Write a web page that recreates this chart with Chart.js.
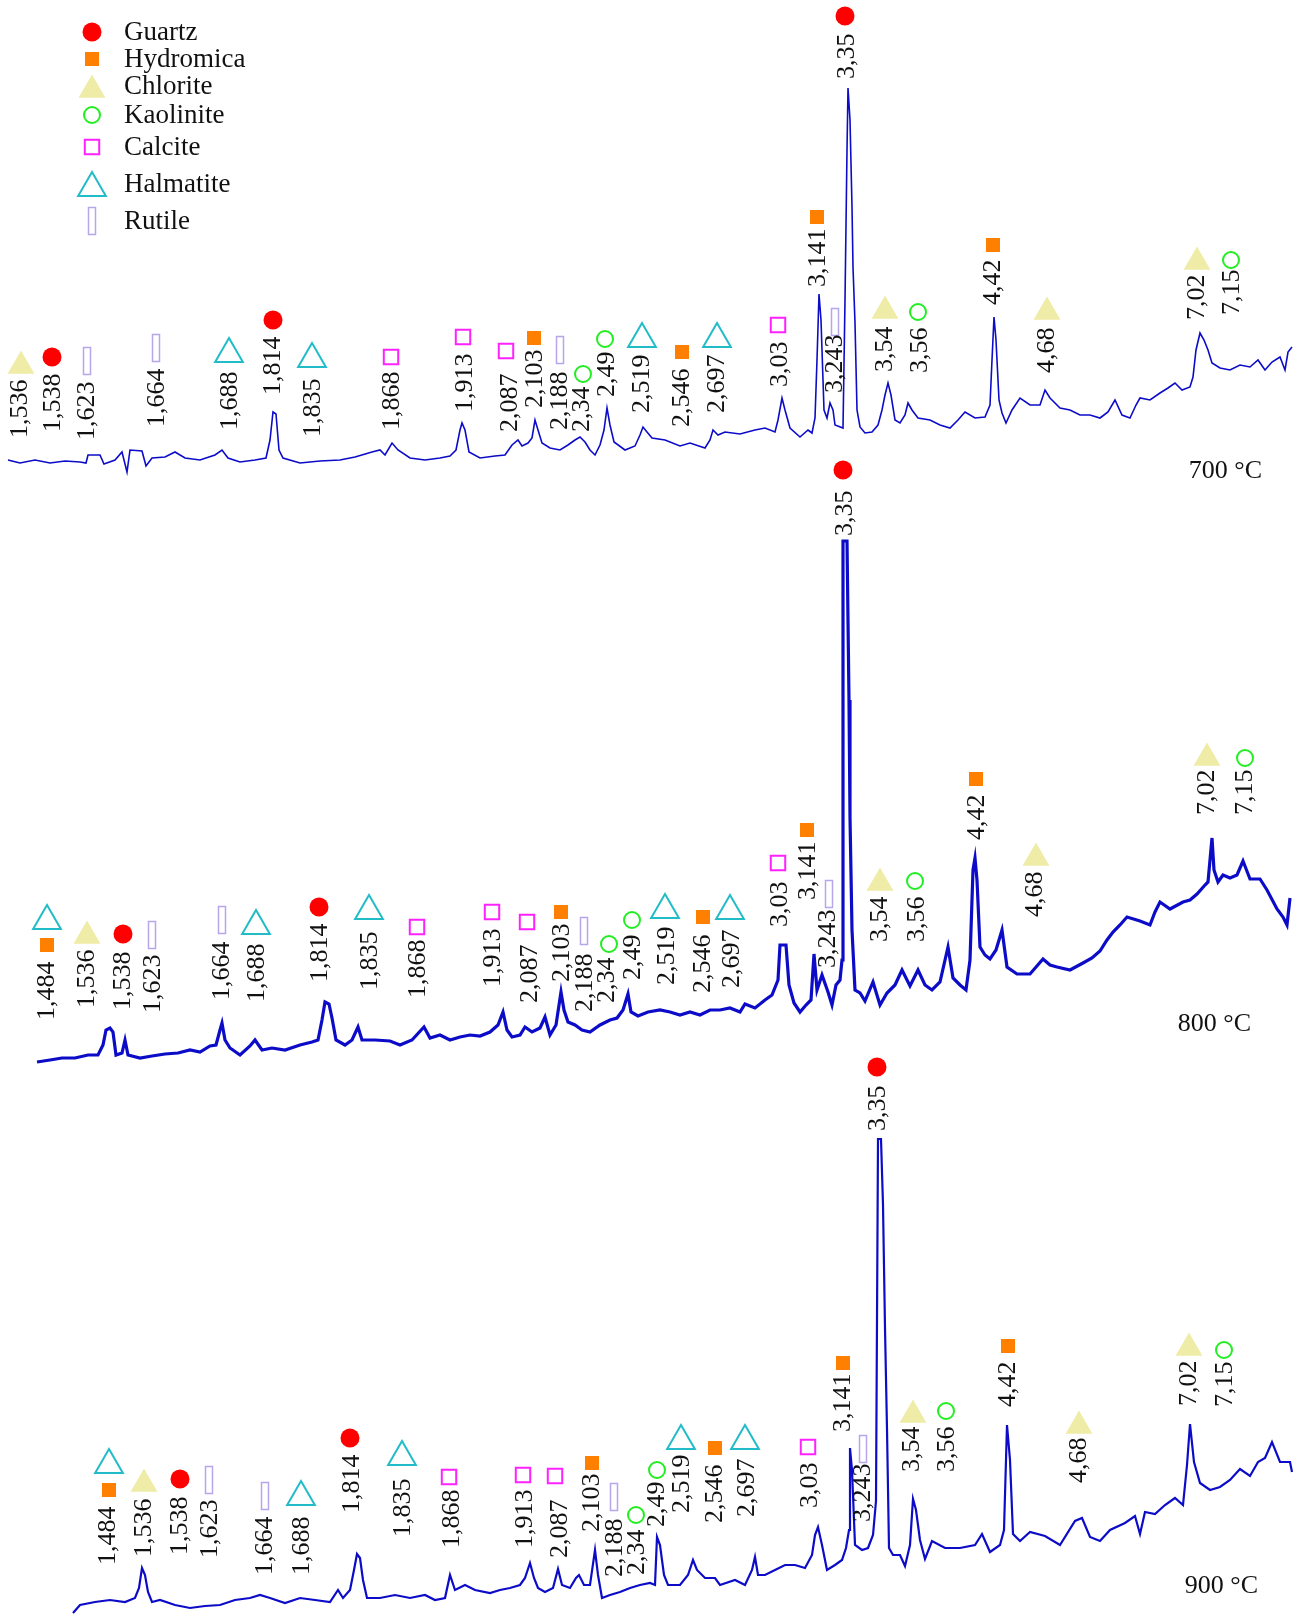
<!DOCTYPE html>
<html>
<head>
<meta charset="utf-8">
<script src="https://cdn.jsdelivr.net/npm/chart.js@4.4.1/dist/chart.umd.min.js"></script>
<style>
html, body { margin: 0; padding: 0; background: #fff; }
#wrap { width: 1299px; height: 1616px; }
</style>
</head>
<body>
<div id="wrap"><canvas id="chart" width="1299" height="1616"></canvas></div>
<script>
// diffractogram traces (x = channel position, y = offset from top)
const trace700X = [8,20,35,50,65,80,86,88,100,104,115,122,127,130,142,146,152,165,175,185,200,215,222,228,240,255,266,270,273,276,279,283,300,320,340,355,372,380,385,392,398,410,425,440,450,456,460,462,465,469,480,495,505,512,518,522,528,532,535,538,542,550,560,568,575,580,585,590,595,600,604,607,610,614,625,635,640,643,647,652,665,680,690,705,710,713,718,725,740,755,765,775,778,782,785,790,800,808,812,815,817,819,821,824,827,830,833,835,843,845,847,848,850,852,853,855,857,860,865,872,878,882,885,888,891,895,900,905,908,912,918,930,940,950,958,965,975,985,990,992,994,996,999,1002,1006,1012,1020,1030,1040,1045,1050,1060,1070,1080,1090,1100,1108,1115,1122,1130,1136,1140,1150,1160,1168,1175,1182,1190,1193,1196,1200,1204,1208,1212,1220,1230,1240,1250,1258,1265,1272,1280,1285,1288,1292];
const trace700Y = [460,463,460,463,461,462,463,455,455,464,460,452,472,450,451,466,458,457,452,458,460,455,450,458,462,460,458,440,412,414,450,458,463,461,460,457,452,450,455,443,450,458,460,458,456,450,430,423,430,452,458,456,455,445,440,446,443,438,420,430,443,448,450,445,440,437,442,450,455,445,430,408,425,442,450,446,435,427,432,438,440,446,443,448,440,430,435,432,434,430,428,432,420,398,410,428,437,430,433,418,360,294,320,410,418,403,410,425,428,300,150,88,120,207,267,323,410,427,433,432,425,410,395,383,395,420,423,415,403,410,418,420,425,428,420,412,418,417,405,360,317,340,400,413,423,410,398,405,405,390,398,408,410,415,415,418,412,400,415,418,405,398,400,393,388,383,390,387,377,350,333,340,350,363,368,370,365,367,360,370,362,357,370,352,347];

const trace800X = [37,50,62,75,88,98,103,106,110,113,116,122,125,128,140,152,165,178,190,200,210,216,220,222,225,230,240,250,255,262,272,285,300,312,318,322,325,329,332,336,345,352,358,362,375,390,400,412,424,430,440,450,460,470,480,490,498,503,507,512,520,525,532,540,545,550,556,561,564,568,575,582,590,600,610,617,623,628,631,638,648,660,670,680,690,700,710,720,730,740,745,755,765,772,778,780,786,789,794,800,806,811,814,817,822,828,832,836,840,842,843,847,849,850,852,855,860,865,873,880,887,895,902,910,918,925,932,940,948,953,960,966,970,973,975,977,980,985,990,996,1002,1007,1017,1030,1043,1050,1057,1070,1083,1092,1100,1107,1113,1120,1127,1140,1150,1155,1160,1170,1183,1190,1197,1205,1208,1210,1212,1214,1218,1223,1230,1237,1243,1250,1260,1267,1277,1283,1287,1290];
const trace800Y = [1062,1060,1058,1058,1055,1055,1045,1030,1028,1032,1055,1053,1040,1055,1058,1056,1054,1053,1050,1052,1046,1045,1030,1023,1040,1048,1055,1046,1040,1050,1048,1050,1045,1042,1040,1020,1002,1004,1018,1040,1045,1040,1027,1040,1040,1041,1045,1040,1027,1038,1035,1040,1037,1035,1036,1032,1025,1012,1030,1037,1035,1027,1032,1028,1017,1035,1025,992,1010,1022,1025,1030,1032,1025,1020,1018,1010,994,1012,1016,1012,1010,1012,1015,1012,1015,1010,1010,1008,1012,1004,1008,1000,995,980,945,945,985,1003,1012,1005,1000,954,990,975,992,1005,985,980,960,541,541,700,817,930,990,993,1001,982,1005,993,985,970,986,970,985,990,982,947,978,985,990,960,870,858,880,947,955,959,950,930,967,974,974,959,965,967,970,963,958,951,940,932,925,917,921,925,912,902,909,902,900,894,885,882,860,838,870,882,875,878,875,861,879,879,890,909,917,925,898];

const trace900X = [73,80,95,110,125,135,139,142,145,148,152,160,175,190,205,220,235,250,260,270,285,300,315,330,338,343,350,354,357,360,363,367,380,395,410,425,435,445,450,455,465,475,490,500,510,520,525,530,534,538,545,553,558,562,570,576,579,584,590,595,598,602,610,620,630,640,650,655,657,660,664,668,680,688,693,697,705,715,720,735,745,752,755,758,765,775,785,795,805,812,815,818,822,827,835,842,846,849,850,852,855,862,868,873,876,878,881,883,885,887,889,893,900,905,910,913,916,920,925,932,945,960,975,982,990,1000,1004,1007,1010,1013,1020,1030,1045,1060,1075,1082,1090,1100,1110,1125,1135,1140,1145,1155,1165,1175,1183,1187,1190,1194,1200,1210,1220,1230,1240,1250,1258,1265,1272,1280,1290,1292];
const trace900Y = [1613,1605,1602,1600,1602,1598,1588,1568,1575,1592,1602,1600,1605,1608,1606,1605,1600,1598,1595,1598,1603,1598,1600,1602,1590,1598,1590,1570,1554,1558,1580,1598,1598,1595,1598,1595,1600,1598,1575,1590,1585,1590,1593,1590,1588,1585,1578,1563,1578,1588,1592,1588,1569,1585,1588,1578,1575,1585,1585,1550,1575,1598,1595,1592,1588,1585,1583,1585,1537,1545,1575,1585,1585,1575,1560,1570,1578,1578,1585,1580,1585,1570,1557,1575,1575,1570,1565,1565,1568,1555,1535,1527,1545,1570,1565,1560,1548,1530,1448,1470,1545,1550,1548,1535,1501,1139,1139,1205,1328,1429,1548,1555,1555,1566,1545,1499,1510,1540,1559,1541,1548,1548,1545,1534,1552,1545,1530,1425,1460,1534,1541,1532,1536,1545,1521,1518,1537,1541,1530,1523,1516,1534,1512,1514,1505,1498,1505,1465,1424,1462,1483,1490,1487,1480,1469,1476,1462,1458,1442,1462,1462,1472];

// peak labels (d-spacing), position and lower end of the text
const labels700 = ['1,536','1,538','1,623','1,664','1,688','1,814','1,835','1,868','1,913','2,087','2,103','2,188','2,34','2,49','2,519','2,546','2,697','3,03','3,141','3,243','3,35','3,54','3,56','4,42','4,68','7,02','7,15'];
const labelX700 = [20,53,87,157,230,273,313,392,465,510,535,560,582,607,642,682,717,780,818,835,847,885,920,993,1047,1197,1232];
const labelY700 = [438,432,440,427,430,395,437,430,412,432,408,430,432,397,413,427,413,387,287,393,79,372,373,305,373,320,315];

const labels800 = ['1,484','1,536','1,538','1,623','1,664','1,688','1,814','1,835','1,868','1,913','2,087','2,103','2,188','2,34','2,49','2,519','2,546','2,697','3,03','3,141','3,243','3,35','3,54','3,56','4,42','4,68','7,02','7,15'];
const labelX800 = [47,87,123,153,222,257,320,370,418,493,530,562,585,607,633,667,703,732,780,808,828,845,880,917,977,1035,1207,1245];
const labelY800 = [1020,1008,1010,1013,1000,1002,982,990,998,987,1003,982,1012,1003,980,985,993,988,927,900,968,536,942,942,840,917,815,815];

const labels900 = labels800;
const labelX900 = [108,144,180,210,265,302,352,403,452,525,560,592,615,637,657,682,715,747,810,843,863,878,912,947,1008,1079,1189,1225];
const labelY900 = [1565,1557,1555,1558,1575,1575,1513,1537,1548,1548,1558,1532,1577,1575,1527,1513,1523,1517,1508,1432,1522,1131,1472,1472,1407,1483,1406,1407];

// phase markers
const markerKind700 = ['Chlorite','Guartz','Rutile','Rutile','Halmatite','Guartz','Halmatite','Calcite','Calcite','Calcite','Hydromica','Rutile','Kaolinite','Kaolinite','Halmatite','Hydromica','Halmatite','Calcite','Hydromica','Rutile','Guartz','Chlorite','Kaolinite','Hydromica','Chlorite','Chlorite','Kaolinite'];
const markerX700 = [21,52,87,156,229,273,312,391,463,506,534,560,583,605,642,682,717,778,817,835,845,885,918,993,1047,1197,1231];
const markerY700 = [362,357,361,348,350,320,355,357,337,351,338,350,374,339,335,352,335,325,217,322,16,307,312,245,308,258,260];

const markerKind800 = ['Hydromica','Halmatite','Chlorite','Guartz','Rutile','Rutile','Halmatite','Guartz','Halmatite','Calcite','Calcite','Calcite','Hydromica','Rutile','Kaolinite','Kaolinite','Halmatite','Hydromica','Halmatite','Calcite','Hydromica','Rutile','Guartz','Chlorite','Kaolinite','Hydromica','Chlorite','Chlorite','Kaolinite'];
const markerX800 = [47,47,87,123,152,222,256,319,369,417,492,527,561,584,609,632,665,703,730,778,807,829,843,880,915,976,1036,1207,1245];
const markerY800 = [945,917,932,934,935,920,922,907,907,927,912,922,912,931,944,920,906,917,907,863,830,894,470,879,881,779,854,754,758];

const markerKind900 = markerKind800;
const markerX900 = [109,109,144,180,209,265,301,350,402,449,523,555,592,614,636,657,681,715,745,808,843,863,877,913,946,1008,1079,1189,1224];
const markerY900 = [1490,1461,1480,1479,1480,1496,1493,1438,1453,1477,1475,1476,1463,1497,1515,1470,1437,1448,1437,1447,1363,1449,1067,1411,1411,1346,1422,1344,1350];

const temperatures = ['700 °C', '800 °C', '900 °C'];
const tempX = [1262, 1251, 1258];
const tempY = [471, 1024, 1586];

const minerals = ['Guartz', 'Hydromica', 'Chlorite', 'Kaolinite', 'Calcite', 'Halmatite', 'Rutile'];
const legendY = [32, 59, 86, 115, 147, 184, 221];

function rutileGlyph() {
    const c = document.createElement('canvas')
    c.width = 10
    c.height = 30
    const g = c.getContext('2d')
    g.strokeStyle = '#b7a6ec'
    g.lineWidth = 1.5
    g.strokeRect(1.5, 1.5, 7, 27)
    return c
}

const styles = {
    Guartz:    { pointStyle: 'circle', radius: 9.5, bg: '#ff0000', border: '#ff0000', bw: 0 },
    Hydromica: { pointStyle: 'rect', radius: 9.9, bg: '#ff8000', border: '#ff8000', bw: 0 },
    Chlorite:  { pointStyle: 'triangle', radius: 15.5, bg: '#eeeca6', border: '#eeeca6', bw: 0 },
    Kaolinite: { pointStyle: 'circle', radius: 8, bg: 'rgba(0,0,0,0)', border: '#22ee22', bw: 2 },
    Calcite:   { pointStyle: 'rect', radius: 10.2, bg: 'rgba(0,0,0,0)', border: '#ff22ff', bw: 2 },
    Halmatite: { pointStyle: 'triangle', radius: 16, bg: 'rgba(0,0,0,0)', border: '#22bcc8', bw: 2 },
    Rutile:    { pointStyle: rutileGlyph(), radius: 10, bg: 'rgba(0,0,0,0)', border: '#b7a6ec', bw: 0 }
}

// triangles are centred on their circumcentre; shift so the drawn shape sits where it was read
function yShift(kind) {
    const s = styles[kind]
    return s.pointStyle === 'triangle' ? s.radius / 4 : 0
}

const markerPanels = [
    [markerKind700, markerX700, markerY700],
    [markerKind800, markerX800, markerY800],
    [markerKind900, markerX900, markerY900]
]

function traceData(xs, ys) {
    return xs.map((x, i) => ({ x: x, y: ys[i] }))
}

const traceColor = '#0c0cc8'
const datasets = [
    { data: traceData(trace700X, trace700Y), borderWidth: 1.6 },
    { data: traceData(trace800X, trace800Y), borderWidth: 3.2 },
    { data: traceData(trace900X, trace900Y), borderWidth: 2.2 }
].map(d => Object.assign(d, {
    showLine: true, pointRadius: 0, borderColor: traceColor, tension: 0, fill: false
}))

minerals.forEach(kind => {
    const s = styles[kind]
    const pts = []
    markerPanels.forEach(([kinds, xs, ys]) => {
        kinds.forEach((k, i) => {
            if (k === kind) pts.push({ x: xs[i], y: ys[i] + yShift(kind) })
        })
    })
    datasets.push({
        label: kind,
        data: pts,
        showLine: false,
        clip: false,
        pointStyle: s.pointStyle,
        pointRadius: s.radius,
        pointBackgroundColor: s.bg,
        pointBorderColor: s.border,
        pointBorderWidth: s.bw
    })
})

const labelPanels = [
    [labels700, labelX700, labelY700],
    [labels800, labelX800, labelY800],
    [labels900, labelX900, labelY900]
]

const annotations = {
    id: 'annotations',
    afterDatasetsDraw(chart) {
        const ctx = chart.ctx
        const xs = chart.scales.x
        const ys = chart.scales.y
        ctx.save()
        ctx.fillStyle = '#111'

        // rotated d-spacing labels
        ctx.font = '26px "Liberation Serif", "Times New Roman", serif'
        ctx.textAlign = 'left'
        ctx.textBaseline = 'middle'
        labelPanels.forEach(([texts, lx, ly]) => {
            texts.forEach((t, i) => {
                ctx.save()
                ctx.translate(xs.getPixelForValue(lx[i]), ys.getPixelForValue(ly[i]))
                ctx.rotate(-Math.PI / 2)
                ctx.fillText(t, 0, 0)
                ctx.restore()
            })
        })

        // temperature tags
        ctx.textAlign = 'right'
        temperatures.forEach((t, i) => {
            ctx.fillText(t, xs.getPixelForValue(tempX[i]), ys.getPixelForValue(tempY[i]))
        })

        // legend
        ctx.font = '27px "Liberation Serif", "Times New Roman", serif'
        ctx.textAlign = 'left'
        minerals.forEach((kind, i) => {
            const s = styles[kind]
            ctx.save()
            ctx.fillStyle = s.bg
            ctx.strokeStyle = s.border
            ctx.lineWidth = s.bw
            Chart.helpers.drawPoint(ctx, {
                pointStyle: s.pointStyle, radius: s.radius, rotation: 0, borderWidth: s.bw
            }, 92, legendY[i] + yShift(kind))
            ctx.restore()
            ctx.fillText(kind, 124, legendY[i] + 1)
        })
        ctx.restore()
    }
}

new Chart(document.getElementById('chart'), {
    type: 'scatter',
    data: { datasets: datasets },
    options: {
        responsive: false,
        animation: false,
        events: [],
        layout: { padding: 0, autoPadding: false },
        scales: {
            x: { type: 'linear', min: 0, max: 1299, display: false },
            y: { type: 'linear', min: 0, max: 1616, reverse: true, display: false }
        },
        plugins: {
            legend: { display: false },
            tooltip: { enabled: false }
        }
    },
    plugins: [annotations]
})
</script>
</body>
</html>
